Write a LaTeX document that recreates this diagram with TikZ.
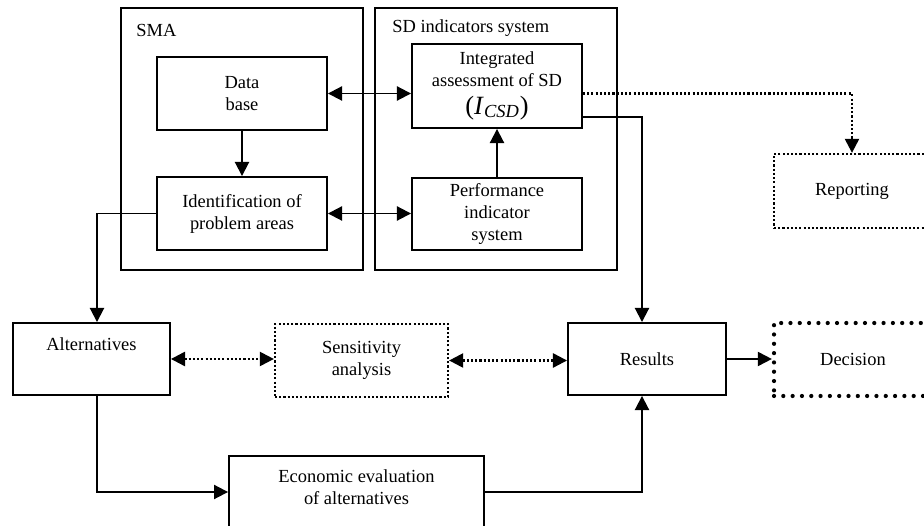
\documentclass[tikz,border=0pt]{standalone}
\usepackage{fontspec}
\setmainfont{Liberation Serif}
\usetikzlibrary{arrows.meta}

\tikzset{
    txt/.style={inner sep=2pt, align=center, font=\fontsize{10.5}{12.5}\selectfont},
    box/.style={txt, shape=rectangle, draw=black, line width=1.1pt},
    dotbox/.style={box, line width=1.3pt, dash pattern=on 1.2pt off 1.2pt},
    roundbox/.style={box, line width=2.4pt, line cap=round, dash pattern=on 0pt off 5.3pt},
    arr/.style={line width=1.1pt, -{Triangle[length=8pt,width=8pt]}},
    dblarr/.style={line width=1.1pt, {Triangle[length=8pt,width=8pt]}-{Triangle[length=8pt,width=8pt]}},
    dotarr/.style={arr, line width=1.3pt, dash pattern=on 1.2pt off 1.2pt},
    dotdbl/.style={dblarr, line width=1.3pt, dash pattern=on 1.2pt off 1.2pt},
}

\begin{document}
\begin{tikzpicture}[x=0.02cm, y=-0.02cm]
    \useasboundingbox (0,0) rectangle (924,526);
    \clip (0,0) rectangle (924,526);
    % two frames
    \node[box, minimum width=4.84cm, minimum height=5.24cm] (sma) at (242,139) {};
    \node[box, minimum width=4.84cm, minimum height=5.24cm] (sdsys) at (496,139) {};
    \node[txt, anchor=base west] (smalabel) at (132.5,37) {SMA};
    \node[txt, anchor=base west] (sdlabel) at (388.5,33) {SD indicators system};
    % boxes
    \node[box, minimum width=3.4cm, minimum height=1.46cm] (data) at (242,93.5) {Data\\base};
    \node[box, minimum width=3.4cm, minimum height=1.46cm] (ident) at (242,213.5) {Identification of\\problem areas};
    \node[box, minimum width=3.4cm, minimum height=1.68cm] (integ) at (497,86) {Integrated\\assessment of SD\\[3pt]{\fontsize{15}{16}\selectfont(\textit{I}\textsubscript{\textit{CSD}})}};
    \node[box, minimum width=3.4cm, minimum height=1.44cm] (perf) at (497,214) {Performance\\indicator\\system};
    \node[dotbox, minimum width=3.12cm, minimum height=1.48cm] (report) at (852,191) {Reporting};
    \node[box, minimum width=3.14cm, minimum height=1.44cm,
        label={[txt, anchor=north, yshift=-0.23cm]north:Alternatives}] (alt) at (91.5,359) {};
    \node[dotbox, minimum width=3.46cm, minimum height=1.46cm] (sens) at (361.5,360.5) {Sensitivity\\analysis};
    \node[box, minimum width=3.16cm, minimum height=1.44cm] (results) at (647,359) {Results};
    \node[roundbox, minimum width=3.16cm, minimum height=1.46cm] (decision) at (853,359.5) {Decision};
    \node[box, minimum width=5.1cm, minimum height=2.08cm,
        label={[txt, anchor=north, yshift=-0.21cm]north:Economic evaluation\\of alternatives}] (econ) at (356.5,508) {};
    % connectors
    \draw[dblarr] (data.east) -- (data.east -| integ.west);
    \draw[dblarr] (ident.east) -- (ident.east -| perf.west);
    \draw[arr] (data) -- (ident);
    \draw[arr] (perf) -- (integ);
    \draw[dotarr] (integ.east |- data) -| (report);
    \draw[arr] ([yshift=-0.62cm]integ.east) -| ([xshift=-0.1cm]results.north);
    \draw[arr] (ident.west) -| ([xshift=0.11cm]alt.north);
    \draw[dotdbl] (alt.east) -- (alt.east -| sens.west);
    \draw[dotdbl] (sens.east) -- (sens.east -| results.west);
    \draw[arr] (results.east) -- (results.east -| decision.west);
    \draw[arr] ([xshift=0.11cm]alt.south) |- ([yshift=0.32cm]econ.west);
    \draw[arr] ([yshift=0.32cm]econ.east) -| ([xshift=-0.1cm]results.south);
\end{tikzpicture}
\end{document}
